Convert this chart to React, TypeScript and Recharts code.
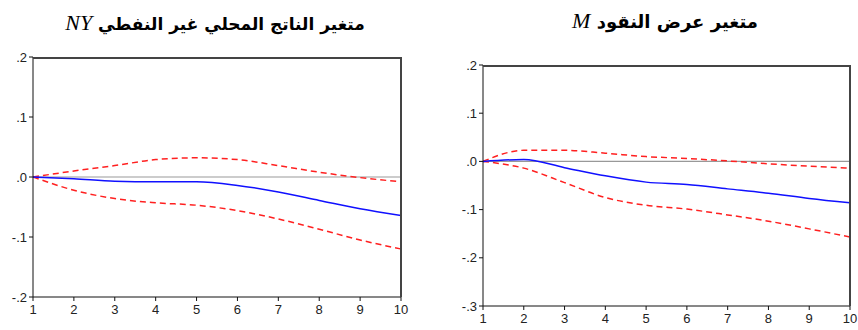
import { LineChart, Line, XAxis, YAxis, ReferenceLine } from "recharts";

const periods = [1, 2, 3, 4, 5, 6, 7, 8, 9, 10];

const nyResponse = [0, -0.003, -0.007, -0.008, -0.008, -0.014, -0.025, -0.039, -0.053, -0.064];
const nyUpper = [0, 0.01, 0.019, 0.029, 0.032, 0.029, 0.019, 0.008, -0.001, -0.008];
const nyLower = [0, -0.022, -0.036, -0.043, -0.047, -0.056, -0.07, -0.087, -0.105, -0.12];

const mResponse = [0, 0.004, -0.013, -0.03, -0.043, -0.048, -0.057, -0.066, -0.077, -0.086];
const mUpper = [0, 0.023, 0.023, 0.017, 0.01, 0.006, 0.001, -0.005, -0.01, -0.014];
const mLower = [0, -0.014, -0.044, -0.075, -0.091, -0.099, -0.111, -0.124, -0.14, -0.157];

const nyTicks = [-0.2, -0.1, 0, 0.1, 0.2];
const mTicks = [-0.3, -0.2, -0.1, 0, 0.1, 0.2];

const Y_AXIS_W = 33;
const X_AXIS_H = 24;

function buildRows(resp: number[], upper: number[], lower: number[]) {
  return periods.map((p, i) => ({
    period: p,
    response: resp[i],
    upper: upper[i],
    lower: lower[i],
  }));
}

function fmtTick(v: number) {
  return v.toFixed(1).replace("0.", ".");
}

const tickStyle = { fontFamily: "Liberation Sans", fontSize: 13, fill: "#222" };

type Margin = { top: number; right: number; left: number; bottom: number };

function IrfPanel({
  rows,
  ticks,
  width,
  height,
  margin,
}: {
  rows: ReturnType<typeof buildRows>;
  ticks: number[];
  width: number;
  height: number;
  margin: Margin;
}) {
  const lo = ticks[0];
  const hi = ticks[ticks.length - 1];
  // top/right edge of the plot box, laid over the svg
  const frame: React.CSSProperties = {
    position: "absolute",
    left: margin.left + Y_AXIS_W,
    top: margin.top,
    width: width - margin.left - margin.right - Y_AXIS_W + 1,
    height: height - margin.top - margin.bottom - X_AXIS_H,
    borderTop: "2px solid #444",
    borderRight: "2px solid #444",
    boxSizing: "border-box",
    pointerEvents: "none",
  };
  return (
    <div style={{ position: "relative", width, height }}>
      <LineChart width={width} height={height} data={rows} margin={margin}>
        <XAxis
          dataKey="period"
          type="number"
          domain={[1, 10]}
          ticks={periods}
          interval={0}
          tick={tickStyle}
          tickSize={4}
          tickMargin={4}
          height={X_AXIS_H}
          stroke="#111"
          allowDataOverflow
        />
        <YAxis
          type="number"
          domain={[lo, hi]}
          ticks={ticks}
          interval={0}
          tickFormatter={fmtTick}
          tick={tickStyle}
          tickSize={4}
          tickMargin={2}
          width={Y_AXIS_W}
          stroke="#111"
          allowDataOverflow
        />
        <ReferenceLine y={0} stroke="#999" strokeWidth={1.2} />
        <Line type="monotone" dataKey="upper" stroke="#ff2020" strokeWidth={1.5} strokeDasharray="6 4" dot={false} isAnimationActive={false} />
        <Line type="monotone" dataKey="lower" stroke="#ff2020" strokeWidth={1.5} strokeDasharray="6 4" dot={false} isAnimationActive={false} />
        <Line type="monotone" dataKey="response" stroke="#1010ff" strokeWidth={1.5} dot={false} isAnimationActive={false} />
      </LineChart>
      <div style={frame} />
    </div>
  );
}

const titleStyle: React.CSSProperties = {
  position: "absolute",
  direction: "rtl",
  fontFamily: "DejaVu Sans",
  fontWeight: "bold",
  color: "#000",
  whiteSpace: "nowrap",
  textAlign: "center",
};

const latin: React.CSSProperties = {
  fontFamily: "Liberation Serif",
  fontStyle: "italic",
  fontWeight: "normal",
  fontSize: 22,
};

export default function App() {
  return (
    <div style={{ position: "absolute", left: 0, top: 0, width: 858, height: 330, background: "#fff" }}>
      <div style={{ position: "absolute", left: 0, top: 0 }}>
        <IrfPanel
          rows={buildRows(nyResponse, nyUpper, nyLower)}
          ticks={nyTicks}
          width={430}
          height={330}
          margin={{ top: 57, right: 29, left: 0, bottom: 9 }}
        />
      </div>
      <div style={{ position: "absolute", left: 430, top: 0 }}>
        <IrfPanel
          rows={buildRows(mResponse, mUpper, mLower)}
          ticks={mTicks}
          width={428}
          height={330}
          margin={{ top: 65, right: 8, left: 20, bottom: 0 }}
        />
      </div>
      <div style={{ ...titleStyle, left: 0, width: 430, top: 10, fontSize: 17 }}>
        متغير الناتج المحلي غير النفطي <span style={latin}>NY</span>
      </div>
      <div style={{ ...titleStyle, left: 430, width: 470, top: 8, fontSize: 18 }}>
        متغير عرض النقود <span style={latin}>M</span>
      </div>
    </div>
  );
}
